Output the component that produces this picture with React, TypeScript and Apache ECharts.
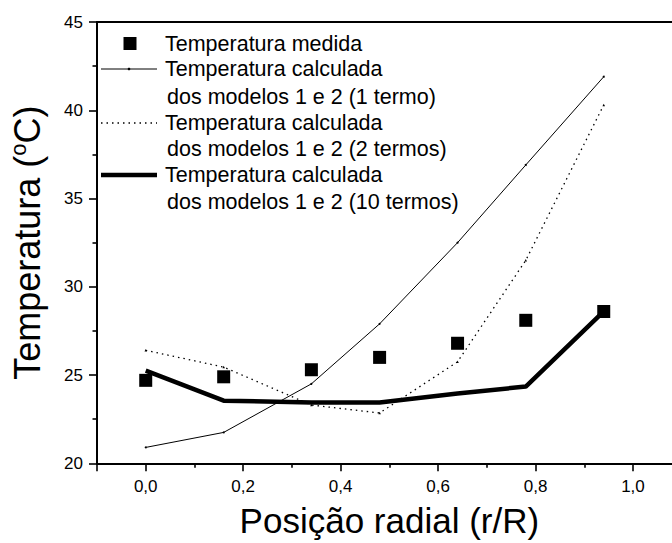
import React, { useEffect, useRef } from "react";
import * as echarts from "echarts";

// Radial position r/R
const positions = [0, 0.16, 0.34, 0.48, 0.64, 0.78, 0.94];
// Measured temperature (°C)
const measured = [24.7, 24.9, 25.3, 26.0, 26.8, 28.1, 28.6];
// Calculated, models 1 and 2, 1 term
const oneTerm = [20.9, 21.75, 24.5, 27.9, 32.5, 36.9, 41.9];
// Calculated, models 1 and 2, 2 terms
const twoTerms = [26.4, 25.45, 23.3, 22.85, 25.75, 31.5, 40.3];
// Calculated, models 1 and 2, 10 terms
const tenTerms = [25.25, 23.55, 23.45, 23.45, 23.95, 24.35, 28.6];

const legendLabels = [
  ["Temperatura medida"],
  ["Temperatura calculada", "dos modelos 1 e 2 (1 termo)"],
  ["Temperatura calculada", "dos modelos 1 e 2 (2 termos)"],
  ["Temperatura calculada", "dos modelos 1 e 2 (10 termos)"],
];

const FONT = "Liberation Sans, Arial, Helvetica, sans-serif";

const pairs = (ys: number[]) => positions.map((x, i) => [x, ys[i]]);

export default function App() {
  const ref = useRef<HTMLDivElement>(null);
  useEffect(() => {
    if (!ref.current) return;
    const chart = echarts.init(ref.current, undefined, { renderer: "svg" });

    const txt = (text: string, x: number, y: number) => ({
      type: "text",
      x,
      y,
      style: {
        text,
        fontSize: 21.5,
        fontFamily: FONT,
        fill: "#000",
        verticalAlign: "middle",
        align: "left",
      },
    });

    const graphic: any[] = [
      { type: "rect", shape: { x: 123.5, y: 37, width: 13, height: 13 }, style: { fill: "#000" } },
      txt(legendLabels[0][0], 165, 43.5),
      { type: "line", shape: { x1: 101, y1: 69, x2: 157, y2: 69 }, style: { stroke: "#000", lineWidth: 1 } },
      { type: "circle", shape: { cx: 129, cy: 69, r: 1.3 }, style: { fill: "#000" } },
      txt(legendLabels[1][0], 165, 69),
      txt(legendLabels[1][1], 167, 96.5),
      { type: "line", shape: { x1: 101, y1: 123, x2: 157, y2: 123 }, style: { stroke: "#000", lineWidth: 1.3, lineDash: [1.5, 4] } },
      txt(legendLabels[2][0], 165, 123),
      txt(legendLabels[2][1], 167, 149),
      { type: "line", shape: { x1: 101, y1: 175, x2: 157, y2: 175 }, style: { stroke: "#000", lineWidth: 4.5 } },
      txt(legendLabels[3][0], 165, 175),
      txt(legendLabels[3][1], 167, 201.5),
    ];

    const xFmt = (v: number) =>
      Math.abs(Math.round(v * 10)) % 2 === 0 ? v.toFixed(1).replace(".", ",") : "";

    const axisLine = { show: true, onZero: false, lineStyle: { color: "#000", width: 2, opacity: 1 } };
    const tick = { show: true, inside: false, length: 8, lineStyle: { color: "#000", width: 1.6, opacity: 1 } };
    const minor = { show: true, splitNumber: 2, length: 4.5, lineStyle: { color: "#000", width: 1.6, opacity: 1 } };

    chart.setOption({
      animation: false,
      backgroundColor: "#fff",
      textStyle: { fontFamily: FONT, color: "#000" },
      grid: {
        left: 97,
        top: 22,
        right: -9.7,
        bottom: 79.7,
        containLabel: false,
        outerBoundsMode: "none",
      },
      xAxis: [
        {
          type: "value",
          position: "bottom",
          min: -0.1,
          max: 1.1,
          splitNumber: 6,
          axisLine,
          axisTick: tick,
          minorTick: minor,
          axisLabel: {
            show: true,
            fontSize: 17,
            color: "#000",
            fontFamily: FONT,
            margin: 15,
            formatter: xFmt,
          },
          splitLine: { show: false },
          name: "Posição radial (r/R)",
          nameLocation: "middle",
          nameGap: 40,
          nameTextStyle: { fontSize: 35, color: "#000", fontFamily: FONT },
        },
        {
          type: "value",
          position: "top",
          min: -0.1,
          max: 1.1,
          axisLine,
          axisTick: { show: false },
          axisLabel: { show: false },
          splitLine: { show: false },
        },
      ],
      yAxis: {
        type: "value",
        min: 20,
        max: 45,
        interval: 5,
        axisLine,
        axisTick: tick,
        minorTick: minor,
        axisLabel: { fontSize: 17, color: "#000", fontFamily: FONT, margin: 14 },
        splitLine: { show: false },
        name: "{a|Temperatura (}{s|o}{a|C)}",
        nameLocation: "middle",
        nameGap: 50,
        nameTextStyle: {
          fontFamily: FONT,
          color: "#000",
          fontSize: 36,
          rich: {
            a: { fontSize: 36, fontFamily: FONT, color: "#000", lineHeight: 40 },
            s: { fontSize: 22, fontFamily: FONT, color: "#000", verticalAlign: "top", lineHeight: 40, padding: [0, 0, 14, 0] },
          },
        },
      },
      graphic,
      series: [
        {
          name: "1 termo",
          type: "line",
          data: pairs(oneTerm),
          xAxisIndex: 0,
          symbol: "circle",
          symbolSize: 2,
          itemStyle: { color: "#000", opacity: 1 },
          lineStyle: { color: "#000", width: 1 },
          z: 2,
        },
        {
          name: "2 termos",
          type: "line",
          data: pairs(twoTerms),
          xAxisIndex: 0,
          symbol: "triangle",
          symbolSize: 2.5,
          itemStyle: { color: "#000", opacity: 1 },
          lineStyle: { color: "#000", width: 1.3, type: [1.5, 4] },
          z: 2,
        },
        {
          name: "10 termos",
          type: "line",
          data: pairs(tenTerms),
          xAxisIndex: 0,
          symbol: "none",
          lineStyle: { color: "#000", width: 4.5 },
          z: 3,
        },
        {
          name: "Temperatura medida",
          type: "scatter",
          data: pairs(measured),
          xAxisIndex: 0,
          symbol: "rect",
          symbolSize: 13,
          itemStyle: { color: "#000", opacity: 1 },
          z: 4,
        },
      ],
    });
    return () => chart.dispose();
  }, []);
  return (
    <div
      ref={ref}
      style={{ position: "fixed", left: 0, top: 0, width: 672, height: 543, background: "#fff" }}
    />
  );
}
